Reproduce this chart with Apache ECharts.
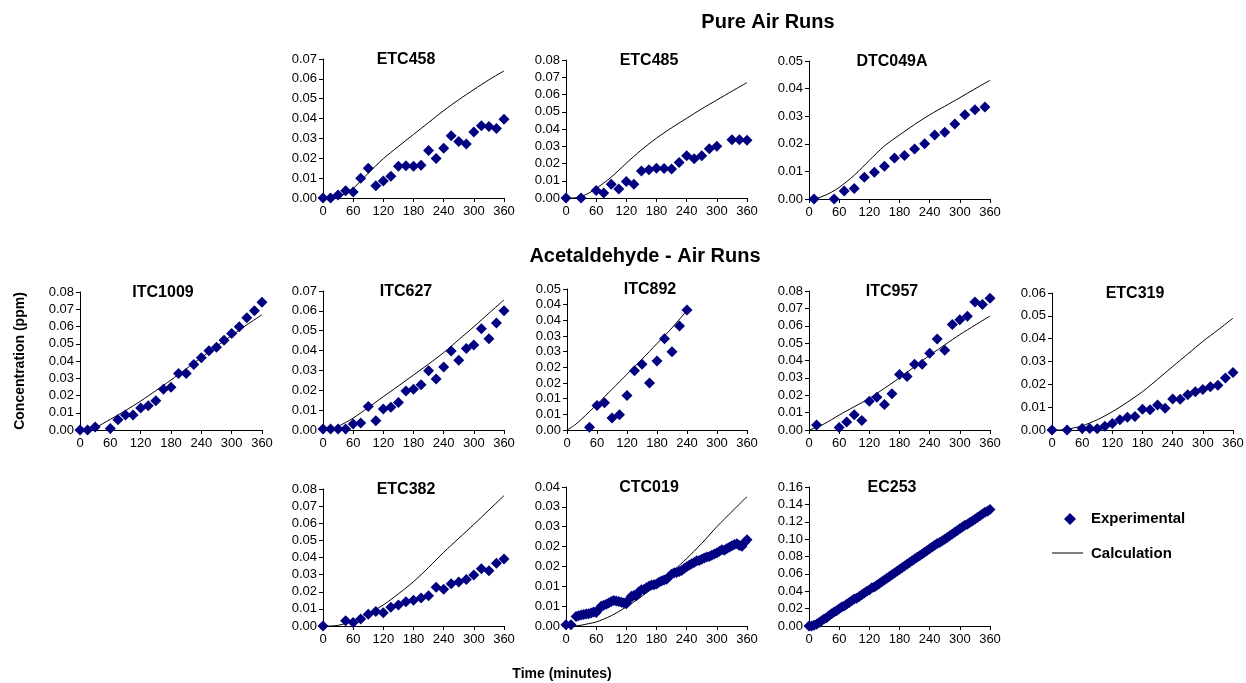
<!DOCTYPE html>
<html>
<head>
<meta charset="utf-8">
<script src="https://cdn.jsdelivr.net/npm/echarts@6/dist/echarts.min.js"></script>
<style>html,body{margin:0;padding:0;background:#fff;}</style>
</head>
<body>
<div id="main" style="width:1246px;height:683px"></div>
<script type="text/javascript">
// sample times (minutes)
var t15 = [0,15,30,45,60,75,90,105,120,135,150,165,180,195,210,225,240,255,270,285,300,315,330,345,360];
var calcT = [0,15,30,45,60,90,120,150,180,210,240,270,300,330,360];

// ETC458
var etc458C = [0,0,0.0015,0.0037,0.003,0.010,0.015,0.0062,0.0085,0.011,0.016,0.0162,0.016,0.0165,0.0239,0.0199,0.025,0.0314,0.0284,0.0272,0.0332,0.0364,0.036,0.035,0.0397];
var etc458Calc = [0,0,0.0007,0.0024,0.0048,0.0125,0.0198,0.026,0.032,0.038,0.044,0.0495,0.0546,0.0595,0.064];

// ETC485
var etc485T = [0,30,60,75,90,105,120,135,150,165,180,195,210,225,240,255,270,285,300,330,345,360];
var etc485C = [0,0,0.0044,0.0029,0.0079,0.0052,0.0096,0.0079,0.0156,0.0164,0.0173,0.0171,0.0168,0.0206,0.0245,0.0227,0.0245,0.0285,0.030,0.0337,0.0337,0.0335];
var etc485Calc = [0,0,0.0008,0.0028,0.0055,0.0121,0.0202,0.0279,0.0347,0.0407,0.0462,0.0517,0.0568,0.0619,0.0669];

// DTC049A
var dtc049aT = [10,50,70,90,110,130,150,170,190,210,230,250,270,290,310,330,350];
var dtc049aC = [0,0,0.0029,0.0038,0.0079,0.0097,0.0119,0.0149,0.0158,0.0181,0.020,0.0232,0.0242,0.0272,0.0305,0.0323,0.0333];
var dtc049aCalc = [0,0.0002,0.0012,0.0025,0.0042,0.0086,0.014,0.0192,0.0232,0.027,0.0305,0.0336,0.0367,0.0399,0.043];

// ITC1009
var itc1009T = [0,15,30,60,75,90,105,120,135,150,165,180,195,210,225,240,255,270,285,300,315,330,345,360];
var itc1009C = [0,0,0.0017,0.0008,0.006,0.0087,0.0087,0.0128,0.014,0.0169,0.0236,0.0248,0.0328,0.0328,0.038,0.0419,0.0459,0.0479,0.0521,0.056,0.0599,0.0651,0.0692,0.074];
var itc1009Calc = [0,0,0.0013,0.0037,0.0062,0.0113,0.0168,0.0228,0.029,0.0355,0.042,0.0485,0.0548,0.061,0.0668];

// ITC627
var itc627C = [0.0005,0.0005,0.0005,0.0005,0.003,0.0035,0.0118,0.0047,0.0106,0.0114,0.0138,0.0196,0.0205,0.0228,0.0299,0.0257,0.0317,0.0398,0.0351,0.041,0.0428,0.051,0.046,0.0539,0.0601];
var itc627Calc = [0,0.0002,0.0018,0.0038,0.006,0.0113,0.0168,0.0222,0.0277,0.0332,0.039,0.0455,0.052,0.0588,0.0655];

// ITC892
var itc892T = [45,60,75,90,105,120,135,150,165,180,195,210,225,240];
var itc892C = [0.0009,0.0078,0.0087,0.0038,0.0049,0.011,0.0189,0.021,0.015,0.022,0.0291,0.025,0.0332,0.0383];
var itc892CalcT = [0,15,30,45,60,90,120,150,180,210,237];
var itc892Calc = [0,0.0015,0.0036,0.0059,0.0082,0.013,0.0178,0.0226,0.0276,0.0326,0.0376];

// ITC957
var itc957T = [15,60,75,90,105,120,135,150,165,180,195,210,225,240,255,270,285,300,315,330,345,360];
var itc957C = [0.0029,0.0015,0.0046,0.0088,0.0055,0.0165,0.0188,0.0147,0.0209,0.032,0.0308,0.0379,0.0379,0.0442,0.0524,0.0459,0.0607,0.0635,0.0655,0.0737,0.0723,0.0758];
var itc957Calc = [0,0.0015,0.0035,0.006,0.0086,0.0134,0.0182,0.024,0.030,0.0365,0.043,0.049,0.0549,0.0603,0.0656];

// ETC319
var etc319T = [0,30,60,75,90,105,120,135,150,165,180,195,210,225,240,255,270,285,300,315,330,345,360];
var etc319C = [0,0,0.0007,0.0007,0.0006,0.0016,0.0028,0.0045,0.0056,0.0059,0.0091,0.0089,0.011,0.0095,0.0136,0.0135,0.0154,0.0168,0.0177,0.0189,0.0196,0.0228,0.0252];
var etc319Calc = [0,0,0.0003,0.001,0.0018,0.0045,0.008,0.0122,0.0168,0.0222,0.0278,0.0333,0.0388,0.0438,0.049];

// ETC382
var etc382T = [0,45,60,75,90,105,120,135,150,165,180,195,210,225,240,255,270,285,300,315,330,345,360];
var etc382C = [0,0.0031,0.0021,0.0041,0.0068,0.0084,0.0078,0.0109,0.0123,0.0142,0.015,0.0163,0.0177,0.0226,0.0214,0.0247,0.0257,0.0272,0.0298,0.0335,0.0323,0.0366,0.0391];
var etc382Calc = [0,0,0.0004,0.0015,0.0029,0.0072,0.0123,0.0188,0.0259,0.0342,0.043,0.0512,0.0593,0.0677,0.0761];

// CTC019
var ctc019T = [0,10,20,25,30,35,40,45,50,55,60,65,70,75,80,85,90,95,100,105,110,115,120,125,130,135,140,145,150,155,160,165,170,175,180,185,190,195,200,205,210,215,220,225,230,235,240,245,250,255,260,265,270,275,280,285,290,295,300,305,310,315,320,325,330,335,340,345,350,355,360];
var ctc019C = [0.0003,0.0003,0.0024,0.0026,0.0028,0.0029,0.003,0.0031,0.0033,0.0035,0.0034,0.0042,0.005,0.0052,0.0055,0.0058,0.0062,0.0064,0.0063,0.0062,0.006,0.0058,0.0056,0.0066,0.0075,0.0077,0.0076,0.0086,0.0091,0.0092,0.0096,0.010,0.0103,0.0104,0.0106,0.011,0.0113,0.0116,0.0118,0.0124,0.013,0.0134,0.0135,0.0137,0.014,0.0145,0.0149,0.0153,0.0157,0.016,0.0164,0.0165,0.0168,0.0171,0.0174,0.0175,0.0178,0.0181,0.0184,0.0188,0.0192,0.0191,0.0195,0.0198,0.0202,0.0205,0.0207,0.0203,0.0201,0.021,0.0217];
var ctc019Calc = [0,0,0.0002,0.0006,0.001,0.0026,0.0048,0.0074,0.0103,0.0135,0.017,0.0208,0.025,0.0288,0.0326];

// EC253
var ec253T = [0,5,10,15,20,25,30,35,40,45,50,55,60,65,70,75,80,85,90,95,100,105,110,115,120,125,130,135,140,145,150,155,160,165,170,175,180,185,190,195,200,205,210,215,220,225,230,235,240,245,250,255,260,265,270,275,280,285,290,295,300,305,310,315,320,325,330,335,340,345,350,355,360];
var ec253C = [0,0,0.001,0.002,0.004,0.006,0.008,0.0095,0.012,0.014,0.016,0.0175,0.020,0.022,0.023,0.025,0.027,0.029,0.031,0.032,0.034,0.036,0.038,0.040,0.0415,0.044,0.045,0.047,0.049,0.051,0.053,0.055,0.057,0.059,0.061,0.063,0.065,0.067,0.069,0.071,0.073,0.075,0.077,0.079,0.081,0.083,0.085,0.087,0.089,0.091,0.093,0.095,0.096,0.098,0.100,0.102,0.104,0.106,0.108,0.110,0.112,0.114,0.116,0.117,0.119,0.121,0.123,0.125,0.127,0.129,0.131,0.132,0.134];
var ec253Calc = [0,0.001,0.004,0.009,0.0155,0.027,0.039,0.052,0.0645,0.077,0.0895,0.1005,0.1115,0.1225,0.1335];

var panels = [
    {name: 'ETC458',  t: t15,      c: etc458C,  ct: calcT,       cc: etc458Calc,  max: 0.07,  step: 0.01,  box: [323, 59, 181, 139]},
    {name: 'ETC485',  t: etc485T,  c: etc485C,  ct: calcT,       cc: etc485Calc,  max: 0.08,  step: 0.01,  box: [566, 60, 181, 138]},
    {name: 'DTC049A', t: dtc049aT, c: dtc049aC, ct: calcT,       cc: dtc049aCalc, max: 0.05,  step: 0.01,  box: [809, 61, 181, 138]},
    {name: 'ITC1009', t: itc1009T, c: itc1009C, ct: calcT,       cc: itc1009Calc, max: 0.08,  step: 0.01,  box: [80, 292, 182, 138]},
    {name: 'ITC627',  t: t15,      c: itc627C,  ct: calcT,       cc: itc627Calc,  max: 0.07,  step: 0.01,  box: [323, 291, 181, 139]},
    {name: 'ITC892',  t: itc892T,  c: itc892C,  ct: itc892CalcT, cc: itc892Calc,  max: 0.045, step: 0.005, box: [567, 289, 180, 141]},
    {name: 'ITC957',  t: itc957T,  c: itc957C,  ct: calcT,       cc: itc957Calc,  max: 0.08,  step: 0.01,  box: [809, 291, 181, 139]},
    {name: 'ETC319',  t: etc319T,  c: etc319C,  ct: calcT,       cc: etc319Calc,  max: 0.06,  step: 0.01,  box: [1052, 293, 181, 137]},
    {name: 'ETC382',  t: etc382T,  c: etc382C,  ct: calcT,       cc: etc382Calc,  max: 0.08,  step: 0.01,  box: [323, 489, 181, 137]},
    {name: 'CTC019',  t: ctc019T,  c: ctc019C,  ct: calcT,       cc: ctc019Calc,  max: 0.035, step: 0.005, box: [566, 487, 181, 139]},
    {name: 'EC253',   t: ec253T,   c: ec253C,   ct: calcT,       cc: ec253Calc,   max: 0.16,  step: 0.02,  box: [809, 487, 181, 139]}
];

var font = '"Liberation Sans", Arial, sans-serif';
var navy = '#000080';

function pairs(xs, ys) {
    var res = [];
    for (var i = 0; i < xs.length; i++) res.push([xs[i], ys[i]]);
    return res;
}
// Excel-style 2 decimal labels (0.045 -> 0.05)
function fmt(v) {
    return (Math.round(v * 100 + 1e-6) / 100).toFixed(2);
}

var grids = [], xAxes = [], yAxes = [], series = [], graphics = [];
panels.forEach(function(p, i) {
    grids.push({left: p.box[0], top: p.box[1], width: p.box[2], height: p.box[3], outerBoundsMode: 'none'});
    xAxes.push({
        gridIndex: i, type: 'value', min: 0, max: 360, interval: 60,
        axisLine: {onZero: false, lineStyle: {color: '#000', width: 1}},
        axisTick: {length: 4, lineStyle: {color: '#000'}},
        axisLabel: {color: '#000', fontSize: 13, fontFamily: font, margin: 7},
        splitLine: {show: false}
    });
    yAxes.push({
        gridIndex: i, type: 'value', min: 0, max: p.max, interval: p.step,
        axisLine: {show: true, lineStyle: {color: '#000', width: 1}},
        axisTick: {show: true, length: 4, lineStyle: {color: '#000'}},
        axisLabel: {color: '#000', fontSize: 13, fontFamily: font, margin: 6, formatter: fmt},
        splitLine: {show: false}
    });
    series.push({
        name: 'Calculation', type: 'line', xAxisIndex: i, yAxisIndex: i,
        data: pairs(p.ct, p.cc), smooth: 0.3, showSymbol: false, silent: true,
        lineStyle: {color: '#000', width: 1}, z: 2
    });
    series.push({
        name: 'Experimental', type: 'scatter', xAxisIndex: i, yAxisIndex: i,
        data: pairs(p.t, p.c), symbol: 'diamond', symbolSize: 11, silent: true,
        itemStyle: {color: navy, opacity: 1}, z: 3
    });
    graphics.push({
        type: 'text', x: p.box[0] + 83, y: p.box[1] + 1,
        style: {text: p.name, fill: '#000', font: 'bold 16px ' + font, textAlign: 'center', textVerticalAlign: 'middle'}
    });
});

graphics.push(
    {type: 'text', x: 768, y: 22, style: {text: 'Pure Air Runs', fill: '#000', font: 'bold 20px ' + font, textAlign: 'center', textVerticalAlign: 'middle'}},
    {type: 'text', x: 645, y: 256, style: {text: 'Acetaldehyde - Air Runs', fill: '#000', font: 'bold 20px ' + font, textAlign: 'center', textVerticalAlign: 'middle'}},
    {type: 'text', x: 20, y: 361, rotation: Math.PI / 2, style: {text: 'Concentration (ppm)', fill: '#000', font: 'bold 14px ' + font, textAlign: 'center', textVerticalAlign: 'middle'}},
    {type: 'text', x: 562, y: 674, style: {text: 'Time (minutes)', fill: '#000', font: 'bold 14px ' + font, textAlign: 'center', textVerticalAlign: 'middle'}},
    // legend
    {type: 'polygon', shape: {points: [[1070, 513], [1076, 519], [1070, 525], [1064, 519]]}, style: {fill: navy}},
    {type: 'text', x: 1091, y: 519, style: {text: 'Experimental', fill: '#000', font: 'bold 15px ' + font, textVerticalAlign: 'middle'}},
    {type: 'line', shape: {x1: 1052, y1: 553, x2: 1083, y2: 553}, style: {stroke: '#000', lineWidth: 1}},
    {type: 'text', x: 1091, y: 554, style: {text: 'Calculation', fill: '#000', font: 'bold 15px ' + font, textVerticalAlign: 'middle'}}
);

var myChart = echarts.init(document.getElementById('main'));
myChart.setOption({
    backgroundColor: '#fff',
    animation: false,
    textStyle: {fontFamily: font},
    grid: grids,
    xAxis: xAxes,
    yAxis: yAxes,
    series: series,
    graphic: graphics
});
</script>
</body>
</html>
